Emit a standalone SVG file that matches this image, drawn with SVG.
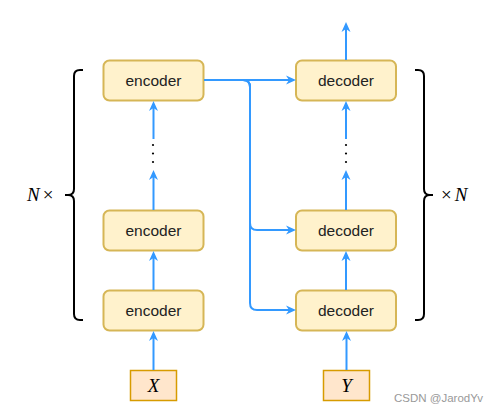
<svg xmlns="http://www.w3.org/2000/svg" width="499" height="413" viewBox="0 0 499 413">
<style>
.node rect{fill:#fff2cc;stroke:#d6b656;stroke-width:2}
.node text{font-family:"Liberation Sans",Arial,sans-serif;font-size:15.5px;fill:#222;text-anchor:middle}
.inp rect{fill:#ffe6cc;stroke:#d79b00;stroke-width:1.5}
.math{font-family:"Liberation Serif","Times New Roman",serif;font-size:19px;fill:#000}
.conn path{fill:none;stroke:#3399ff;stroke-width:2;marker-end:url(#ah)}
.brace{fill:none;stroke:#000;stroke-width:2}
</style>
<defs>
<marker id="ah" viewBox="0 0 10 10" refX="7" refY="5" markerWidth="10" markerHeight="10" markerUnits="userSpaceOnUse" orient="auto">
<path d="M0,0.5 L10,5 L0,9.5 L3,5 z" fill="#3399ff"/>
</marker>
</defs>
<rect width="499" height="413" fill="#ffffff"/>
<g id="enc3" class="node"><rect x="103.5" y="60.5" width="100" height="40" rx="6"/><text x="153.5" y="86">encoder</text></g>
<g id="enc2" class="node"><rect x="103.5" y="210.5" width="100" height="40" rx="6"/><text x="153.5" y="236">encoder</text></g>
<g id="enc1" class="node"><rect x="103.5" y="290.5" width="100" height="40" rx="6"/><text x="153.5" y="316">encoder</text></g>
<g id="dec3" class="node"><rect x="296" y="60.5" width="100" height="40" rx="6"/><text x="346" y="86">decoder</text></g>
<g id="dec2" class="node"><rect x="296" y="210.5" width="100" height="40" rx="6"/><text x="346" y="236">decoder</text></g>
<g id="dec1" class="node"><rect x="296" y="290.5" width="100" height="40" rx="6"/><text x="346" y="316">decoder</text></g>
<g id="X" class="inp"><rect x="130.5" y="370.5" width="46" height="30"/><text class="math" x="153.5" y="391.5" text-anchor="middle" font-style="italic">X</text></g>
<g id="Y" class="inp"><rect x="323.5" y="370.5" width="46" height="30"/><text class="math" x="346.5" y="391.5" text-anchor="middle" font-style="italic">Y</text></g>
<g id="dotsL" fill="#000"><circle cx="153" cy="145" r="1.1"/><circle cx="153" cy="153.5" r="1.1"/><circle cx="153" cy="162" r="1.1"/></g>
<g id="dotsR" fill="#000"><circle cx="346" cy="145" r="1.1"/><circle cx="346" cy="153.5" r="1.1"/><circle cx="346" cy="162" r="1.1"/></g>
<g id="connectors" class="conn">
<path d="M153.5,370 L153.5,334"/>
<path d="M153.5,290 L153.5,254"/>
<path d="M153.5,210 L153.5,173"/>
<path d="M153.5,139 L153.5,104"/>
<path d="M346.5,370 L346.5,334"/>
<path d="M346,290 L346,254"/>
<path d="M346,210 L346,173"/>
<path d="M346,139 L346,104"/>
<path d="M346,60 L346,25"/>
<path d="M204,80 L293,80"/>
<path d="M204,80 L243,80 Q250,80 250,87 L250,223 Q250,230 257,230 L293,230"/>
<path d="M204,80 L243,80 Q250,80 250,87 L250,303 Q250,310 257,310 L293,310"/>
</g>
<g id="braceL"><path class="brace" d="M83,70 L80,70 Q74,70 74,76 L74,189 Q74,195 68,195 L65,195 M68,195 Q74,195 74,201 L74,314 Q74,320 80,320 L83,320"/>
<text class="math" x="27" y="201"><tspan font-style="italic">N</tspan><tspan dx="3">×</tspan></text></g>
<g id="braceR"><path class="brace" d="M415,70 L418,70 Q424,70 424,76 L424,189 Q424,195 430,195 L433,195 M430,195 Q424,195 424,201 L424,314 Q424,320 418,320 L415,320"/>
<text class="math" x="441" y="201">×<tspan dx="3" font-style="italic">N</tspan></text></g>
<text x="483" y="402" text-anchor="end" font-family="'Liberation Sans',Arial,sans-serif" font-size="11.5" fill="#999999">CSDN @JarodYv</text>
</svg>
